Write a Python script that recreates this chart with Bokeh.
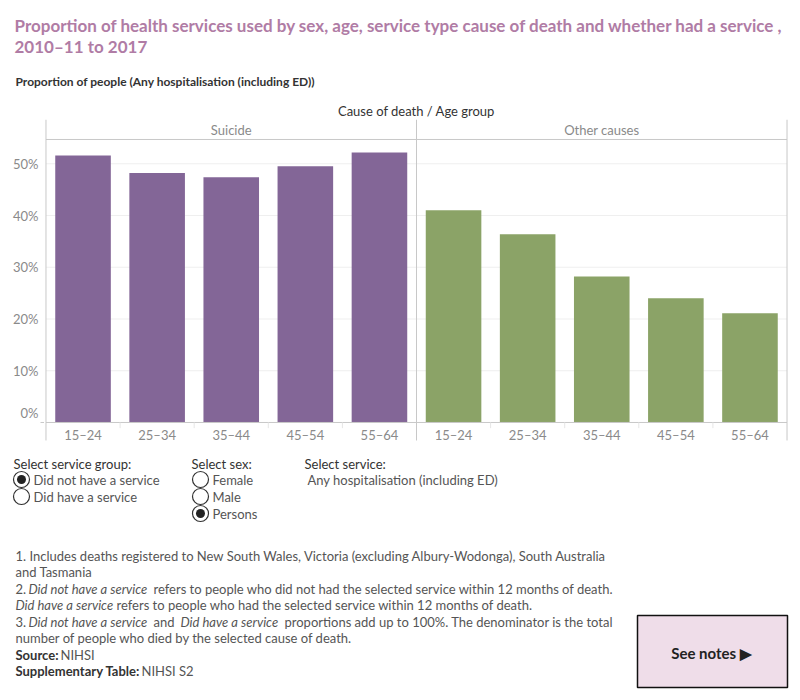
from bokeh.plotting import figure
from bokeh.layouts import column, row
from bokeh.models import ColumnDataSource, FactorRange, Range1d
from bokeh.core.properties import value
from bokeh.embed import file_html
from bokeh.resources import INLINE

FONT = "Lato"

# ---- data -------------------------------------------------------------
causes = ["Suicide", "Other causes"]
age_groups = ["15–24", "25–34", "35–44", "45–54", "55–64"]
suicide_pct = [51.6, 48.2, 47.4, 49.5, 52.2]
other_pct = [41.0, 36.4, 28.2, 24.0, 21.1]
cause_colors = ["#836697", "#8ba367"]
y_ticks = [0, 10, 20, 30, 40, 50]
y_tick_labels = ["0%", "10%", "20%", "30%", "40%", "50%"]

TITLE_COLOR = "#b07ca5"
DARK = "#333333"
GREY = "#555555"
AXIS_GREY = "#8a8a8a"
BORDER = "#c8c8c8"


def bare_figure(width, height, x_range, y_range):
    f = figure(width=width, height=height, x_range=x_range, y_range=y_range, min_border=0,
               x_axis_location=None, y_axis_location=None,
               output_backend="svg", toolbar_location=None)
    f.grid.visible = False
    f.outline_line_color = None
    return f


def page_figure(height, top):
    """Drawing surface whose coordinates are page pixels (y downwards)."""
    return bare_figure(800, height, Range1d(0, 800), Range1d(top + height, top))


def put_text(f, x, y, txt, size="13px", color=DARK, style="normal", align="left"):
    f.text(x=[x], y=[y], text=[txt], text_font=value(FONT), text_font_size=size,
           text_color=color, text_font_style=style, text_align=align,
           text_baseline="middle")


# ---- header -----------------------------------------------------------
head = page_figure(119, 0)
put_text(head, 14, 25, "Proportion of health services used by sex, age, service type cause of death and whether had a service ,",
         size="17px", color=TITLE_COLOR, style="bold")
put_text(head, 14, 46, "2010–11 to 2017", size="17px", color=TITLE_COLOR, style="bold")
put_text(head, 15, 81, "Proportion of people (Any hospitalisation (including ED))", size="12px", color=DARK, style="bold")
put_text(head, 416, 110, "Cause of death / Age group", size="13px", color=DARK, align="center")

# ---- chart --------------------------------------------------------------
factors = [(c, a) for c in causes for a in age_groups]
tops = suicide_pct + other_pct
colors = [cause_colors[0]] * len(age_groups) + [cause_colors[1]] * len(age_groups)
src = ColumnDataSource(dict(x=factors, top=tops, color=colors))

n = len(factors)
y_top = 58.56        # top of the facet header band
header_rule = 54.7   # line under the facet headers
y_floor = -3.48      # bottom of the panel dividers
pct_range = Range1d(-3.87, y_top)

x_factors = FactorRange(*factors, factor_padding=0, group_padding=0,
                        range_padding=0.02, range_padding_units="absolute")
chart = bare_figure(744, 323, x_factors, pct_range)

chart.segment(x0=[0] * 5, x1=[n] * 5, y0=y_ticks[1:], y1=y_ticks[1:], line_color="#efefef", line_width=1)
chart.vbar(x="x", top="top", bottom=0, width=0.75, fill_color="color", line_color=None, source=src)

chart.segment(x0=[0], x1=[n], y0=[header_rule], y1=[header_rule], line_color=BORDER, line_width=1)
chart.segment(x0=[0], x1=[n], y0=[0], y1=[0], line_color=BORDER, line_width=1)
dividers = [0, len(age_groups), n]
chart.segment(x0=dividers, x1=dividers, y0=[y_floor] * 3, y1=[y_top] * 3, line_color=BORDER, line_width=1)
seps = [i for i in range(1, n) if i not in dividers]
chart.segment(x0=seps, x1=seps, y0=[0] * len(seps), y1=[-1.1] * len(seps), line_color="#e6e6e6", line_width=1)

chart.text(x=[len(age_groups) / 2, len(age_groups) * 1.5], y=[56.6, 56.6], text=causes,
           text_font=value(FONT), text_font_size="13px", text_color=AXIS_GREY,
           text_align="center", text_baseline="middle")
chart.text(x=factors, y=[-2.5] * n, text=[a for _, a in factors],
           text_font=value(FONT), text_font_size="13px", text_color=AXIS_GREY,
           text_align="center", text_baseline="middle")

# percent labels to the left of the panels
yfig = bare_figure(44, 323, Range1d(0, 44), pct_range)
yfig.text(x=[38] * 5, y=y_ticks[1:], text=y_tick_labels[1:],
          text_font=value(FONT), text_font_size="13px", text_color=AXIS_GREY,
          text_align="right", text_baseline="middle")
yfig.text(x=[38], y=y_ticks[:1], text=y_tick_labels[:1], y_offset=-9,
          text_font=value(FONT), text_font_size="13px", text_color=AXIS_GREY,
          text_align="right", text_baseline="middle")
yfig.segment(x0=[40], x1=[44], y0=[0], y1=[0], line_color=BORDER, line_width=1)

rfig = bare_figure(12, 323, Range1d(0, 12), pct_range)

# ---- controls -----------------------------------------------------------
foot = page_figure(258, 442)
put_text(foot, 13, 463, "Select service group:")
put_text(foot, 191, 463, "Select sex:")
put_text(foot, 304, 463, "Select service:")

radio_x = [21, 21, 200, 200, 200]
radio_y = [479, 496, 479, 496, 513]
radio_txt = ["Did not have a service", "Did have a service", "Female", "Male", "Persons"]
foot.scatter(x=radio_x, y=radio_y, size=16, fill_color="white", line_color=DARK, line_width=1.2)
foot.scatter(x=[21, 200], y=[479, 513], size=9, fill_color="#222222", line_color=None)
for rx, ry, t in zip(radio_x, radio_y, radio_txt):
    put_text(foot, rx + 12, ry, t, color=GREY)
put_text(foot, 307, 479, "Any hospitalisation (including ED)", color=GREY)

# ---- notes ----------------------------------------------------------------
put_text(foot, 15, 555, "1. Includes deaths registered to New South Wales, Victoria (excluding Albury-Wodonga), South Australia", color=GREY)
put_text(foot, 15, 571, "and Tasmania", color=GREY)
put_text(foot, 15, 588, "2.", color=GREY)
put_text(foot, 28, 588, "Did not have a service", color=GREY, style="italic")
put_text(foot, 153, 588, "refers to people who did not had the selected service within 12 months of death.", color=GREY)
put_text(foot, 15, 604, "Did have a service", color=GREY, style="italic")
put_text(foot, 116, 604, "refers to people who had the selected service within 12 months of death.", color=GREY)
put_text(foot, 15, 621, "3.", color=GREY)
put_text(foot, 28, 621, "Did not have a service", color=GREY, style="italic")
put_text(foot, 153, 621, "and", color=GREY)
put_text(foot, 180, 621, "Did have a service", color=GREY, style="italic")
put_text(foot, 284, 621, "proportions add up to 100%. The denominator is the total", color=GREY)
put_text(foot, 15, 637, "number of people who died by the selected cause of death.", color=GREY)
put_text(foot, 15, 654, "Source:", color=DARK, style="bold")
put_text(foot, 60, 654, "NIHSI", color=GREY)
put_text(foot, 15, 670, "Supplementary Table:", color=DARK, style="bold")
put_text(foot, 141, 670, "NIHSI S2", color=GREY)

foot.quad(left=[637], right=[787], top=[615], bottom=[687], fill_color="#efdde9",
          line_color="#111111", line_width=1.5)
put_text(foot, 711, 652, "See notes ▶", size="15px", color="#222222", style="bold", align="center")

page = column(head, row(yfig, chart, rfig, spacing=0), foot, spacing=0)
open("out.html", "w").write(file_html(page, INLINE))
